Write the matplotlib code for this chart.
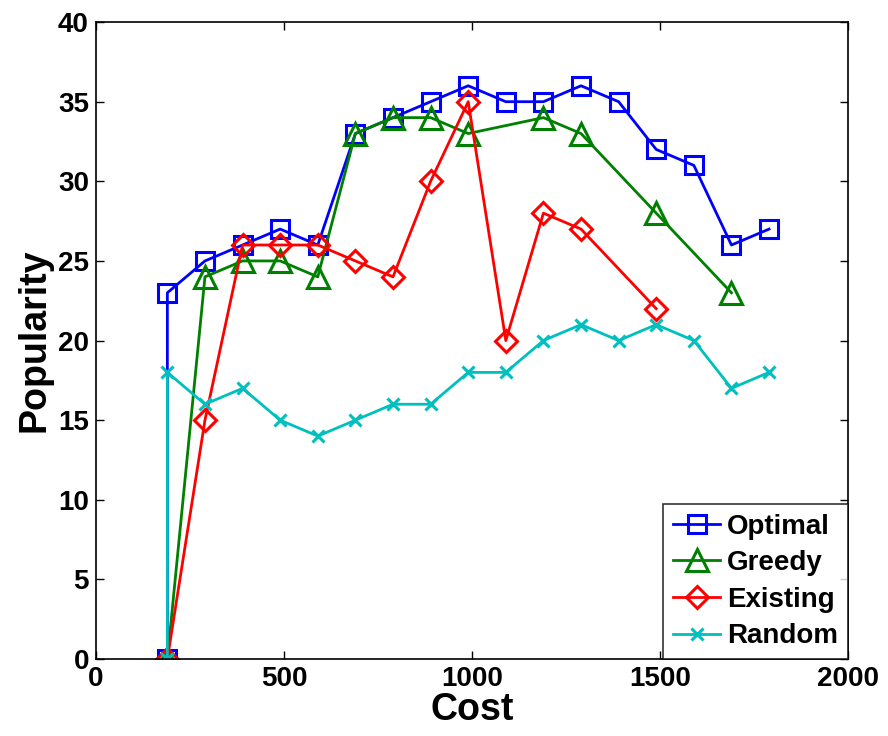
import matplotlib
matplotlib.use("Agg")
import matplotlib.pyplot as plt

# cost budget for each run
cost = [190, 290, 390, 490, 590, 690, 790, 890, 990, 1090,
        1190, 1290, 1390, 1490, 1590, 1690, 1790]

# popularity achieved by each method
optimal_x = [190] + cost
optimal_y = [0, 23, 25, 26, 27, 26, 33, 34, 35, 36, 35, 35, 36, 35, 32, 31, 26, 27]

greedy_x = [190, 290, 390, 490, 590, 690, 790, 890, 990, 1190, 1290, 1490, 1690]
greedy_y = [0, 24, 25, 25, 24, 33, 34, 34, 33, 34, 33, 28, 23]

existing_x = [190, 290, 390, 490, 590, 690, 790, 890, 990, 1090, 1190, 1290, 1490]
existing_y = [0, 15, 26, 26, 26, 25, 24, 30, 35, 20, 28, 27, 22]

random_x = [190] + cost
random_y = [0, 18, 16, 17, 15, 14, 15, 16, 16, 18, 18, 20, 21, 20, 21, 20, 17, 18]

plt.rcParams['font.family'] = ['Liberation Sans', 'DejaVu Sans']
plt.rcParams['font.weight'] = 'bold'

fig = plt.figure(figsize=(8.88, 7.36), dpi=100)
ax = fig.add_axes([0.108, 0.1046, 0.847, 0.8654])

lw = 2.0
ax.plot(optimal_x, optimal_y, color='#0000ff', lw=lw, marker='s', ms=12.5,
        mfc='none', mew=2.2, label='Optimal')
ax.plot(greedy_x, greedy_y, color='#008000', lw=lw, marker='^', ms=16,
        mfc='none', mew=2.2, label='Greedy')
ax.plot(existing_x, existing_y, color='#ff0000', lw=lw, marker='D', ms=11.5,
        mfc='none', mew=2.2, label='Existing')
ax.plot(random_x, random_y, color='#00bfbf', lw=lw, marker='x', ms=9,
        mew=2.2, label='Random')

ax.set_xlim(0, 2000)
ax.set_ylim(0, 40)
ax.set_xticks([0, 500, 1000, 1500, 2000])
ax.set_yticks(range(0, 41, 5))
ax.tick_params(direction='in', top=True, right=True, length=6, width=1,
               labelsize=20, pad=5)
for lab in ax.get_xticklabels() + ax.get_yticklabels():
    lab.set_fontweight('bold')
for sp in ax.spines.values():
    sp.set_linewidth(1.2)

ax.set_xlabel('Cost', fontsize=27, fontweight='bold', labelpad=0)
ax.set_ylabel('Popularity', fontsize=27, fontweight='bold', labelpad=4)

leg = ax.legend(loc='lower right', borderaxespad=0,
                prop={'weight': 'bold', 'size': 20}, fancybox=False,
                handlelength=1.7, handletextpad=0.25, labelspacing=0.38,
                borderpad=0.35)
leg.get_frame().set_edgecolor('black')
leg.get_frame().set_linewidth(1.2)

fig.savefig('out.png', dpi=100)
